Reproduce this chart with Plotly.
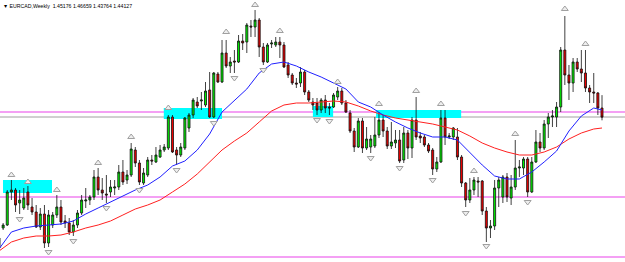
import plotly.graph_objects as go

# ---- weekly EURCAD candles ----
bar_index = list(range(147))
open_ = [
    1.2908, 1.3138, 1.31725, 1.3552, 1.3575, 1.34255, 1.3368, 1.3552, 1.33795, 1.3322,
    1.31495, 1.3299, 1.29655, 1.31725, 1.32875, 1.33795, 1.32185, 1.31955, 1.3092, 1.31725,
    1.33105, 1.34485, 1.346, 1.34945, 1.37245, 1.3575, 1.3529, 1.3552, 1.3598, 1.36095,
    1.3782, 1.369, 1.37475, 1.4035, 1.38855, 1.36555, 1.37475, 1.392, 1.3897, 1.39545,
    1.4035, 1.4058, 1.44145, 1.4035, 1.39775, 1.4058, 1.4288, 1.44375, 1.4587, 1.45985,
    1.45525, 1.4725, 1.44145, 1.4909, 1.4817, 1.51505, 1.5001, 1.50585, 1.5047, 1.52885,
    1.5277, 1.5461, 1.54495, 1.553, 1.52195, 1.5047, 1.5254, 1.52425, 1.5277, 1.52425,
    1.50125, 1.48975, 1.48055, 1.48055, 1.4932, 1.4702, 1.4587, 1.45755, 1.4495, 1.461,
    1.45295, 1.45295, 1.46445, 1.47135, 1.45755, 1.44605, 1.42535, 1.40695, 1.43685, 1.4058,
    1.40695, 1.4081, 1.42075, 1.438, 1.42535, 1.4081, 1.41155, 1.415, 1.392, 1.42305,
    1.4058, 1.438, 1.4196, 1.41845, 1.40925, 1.4035, 1.38165, 1.3897, 1.4403, 1.41845,
    1.41845, 1.41845, 1.39545, 1.36555, 1.346, 1.3575, 1.36785, 1.36785, 1.33335, 1.3138,
    1.3161, 1.3598, 1.34945, 1.37245, 1.3483, 1.36095, 1.3828, 1.3828, 1.39315, 1.3552,
    1.3897, 1.4127, 1.4058, 1.4334, 1.44145, 1.44145, 1.45295, 1.5185, 1.48975, 1.48055,
    1.5047, 1.49665, 1.49205, 1.4748, 1.4702, 1.46905, 1.45176]
high = [
    1.30805, 1.31955, 1.3575, 1.369, 1.3598, 1.3575, 1.3598, 1.3621, 1.3483, 1.34025,
    1.3368, 1.34025, 1.3345, 1.3322, 1.35175, 1.346, 1.32875, 1.3253, 1.323, 1.3345,
    1.35175, 1.3598, 1.35175, 1.3805, 1.3828, 1.3713, 1.37475, 1.369, 1.369, 1.38625,
    1.392, 1.3805, 1.41155, 1.40695, 1.392, 1.3828, 1.39545, 1.39775, 1.40695, 1.40925,
    1.4104, 1.44375, 1.44375, 1.40695, 1.41155, 1.44145, 1.44605, 1.4633, 1.46445, 1.4702,
    1.4817, 1.4932, 1.4932, 1.4932, 1.53, 1.53, 1.51045, 1.5185, 1.53575, 1.5369,
    1.54955, 1.553, 1.5645, 1.5553, 1.52655, 1.52655, 1.53, 1.53345, 1.53345, 1.5277,
    1.5047, 1.49205, 1.4863, 1.49895, 1.4955, 1.4725, 1.4633, 1.4633, 1.4633, 1.46675,
    1.45755, 1.46905, 1.47595, 1.4748, 1.461, 1.4495, 1.4288, 1.4403, 1.4403, 1.42995,
    1.42075, 1.44145, 1.4472, 1.44375, 1.42995, 1.4357, 1.4265, 1.4265, 1.42995, 1.4265,
    1.44145, 1.46445, 1.4242, 1.42075, 1.41155, 1.4058, 1.39545, 1.4495, 1.4495, 1.42305,
    1.42995, 1.4288, 1.39775, 1.3667, 1.3713, 1.37245, 1.37245, 1.369, 1.33795, 1.323,
    1.369, 1.37245, 1.37475, 1.37705, 1.37475, 1.415, 1.392, 1.39545, 1.39545, 1.39545,
    1.4265, 1.42305, 1.438, 1.44605, 1.4495, 1.4587, 1.52195, 1.5576, 1.50125, 1.5093,
    1.5093, 1.5185, 1.5185, 1.47825, 1.49205, 1.4702, 1.46659]
low = [
    1.28275, 1.3115, 1.3161, 1.346, 1.3322, 1.3299, 1.3345, 1.3345, 1.32875, 1.3138,
    1.3115, 1.2908, 1.29195, 1.3138, 1.3253, 1.31725, 1.3138, 1.30575, 1.3046, 1.3138,
    1.32875, 1.3368, 1.34025, 1.346, 1.35175, 1.346, 1.34255, 1.34945, 1.35175, 1.3575,
    1.36325, 1.3644, 1.37245, 1.38395, 1.36325, 1.36325, 1.37245, 1.38625, 1.38855, 1.3943,
    1.4012, 1.4035, 1.40005, 1.38625, 1.39545, 1.4035, 1.4242, 1.4403, 1.4518, 1.4495,
    1.45295, 1.4403, 1.4403, 1.48055, 1.48055, 1.4978, 1.49205, 1.49205, 1.50355, 1.5185,
    1.51505, 1.53345, 1.53345, 1.51045, 1.50125, 1.50355, 1.5208, 1.52195, 1.5093, 1.4978,
    1.4863, 1.47825, 1.4748, 1.47595, 1.46675, 1.4587, 1.4495, 1.44375, 1.44605, 1.44605,
    1.44375, 1.4518, 1.461, 1.45525, 1.44605, 1.42305, 1.4012, 1.4058, 1.40005, 1.4035,
    1.40005, 1.4058, 1.4173, 1.41845, 1.40465, 1.40465, 1.4058, 1.38855, 1.38855, 1.39315,
    1.3943, 1.415, 1.41155, 1.40695, 1.40005, 1.37475, 1.3782, 1.38855, 1.40925, 1.41615,
    1.415, 1.392, 1.36095, 1.33795, 1.34255, 1.35175, 1.34945, 1.32875, 1.2977, 1.3023,
    1.3115, 1.33795, 1.34255, 1.3437, 1.34025, 1.3575, 1.37245, 1.37475, 1.34945, 1.35405,
    1.38855, 1.4012, 1.4035, 1.4173, 1.42995, 1.42995, 1.4472, 1.47825, 1.461, 1.4702,
    1.4932, 1.4817, 1.4702, 1.45755, 1.45755, 1.44375, 1.43764]
close = [
    1.3023, 1.31725, 1.3552, 1.3575, 1.34025, 1.346, 1.3483, 1.34025, 1.3322, 1.31495,
    1.3299, 1.29655, 1.32875, 1.32875, 1.33795, 1.3207, 1.31955, 1.3092, 1.31725, 1.33105,
    1.346, 1.346, 1.34945, 1.37245, 1.3575, 1.35405, 1.35175, 1.36095, 1.36095, 1.3782,
    1.3667, 1.37475, 1.40465, 1.38855, 1.3667, 1.37705, 1.392, 1.39085, 1.39775, 1.4035,
    1.40695, 1.44145, 1.4012, 1.39775, 1.40695, 1.4403, 1.44375, 1.461, 1.4541, 1.461,
    1.47135, 1.44145, 1.49205, 1.4817, 1.51505, 1.5001, 1.5047, 1.5047, 1.52885, 1.52655,
    1.54725, 1.54495, 1.553, 1.52195, 1.5047, 1.52425, 1.52655, 1.5277, 1.52425, 1.49895,
    1.48975, 1.48055, 1.4794, 1.4932, 1.4702, 1.461, 1.45525, 1.4495, 1.461, 1.4518,
    1.4518, 1.46675, 1.47135, 1.45755, 1.4472, 1.42535, 1.40695, 1.43685, 1.4058, 1.41615,
    1.41615, 1.42075, 1.438, 1.42535, 1.4081, 1.4127, 1.415, 1.39085, 1.42305, 1.4058,
    1.438, 1.41845, 1.4173, 1.40925, 1.40235, 1.38165, 1.3897, 1.4403, 1.41845, 1.4196,
    1.4288, 1.39545, 1.36555, 1.346, 1.3575, 1.369, 1.3667, 1.33335, 1.3138, 1.3161,
    1.3598, 1.369, 1.37245, 1.34945, 1.36095, 1.3828, 1.38395, 1.39315, 1.3552, 1.3897,
    1.4127, 1.4058, 1.4334, 1.44145, 1.4426, 1.45295, 1.5185, 1.48975, 1.48055, 1.5047,
    1.49665, 1.49205, 1.4748, 1.4702, 1.46905, 1.4518, 1.44127]

# ---- moving averages (sampled every 3 bars) ----
ma_index = [0, 3, 6, 9, 12, 15, 18, 21, 24, 27, 30, 33, 36, 39, 42, 45, 48, 51, 54, 57,
            60, 63, 66, 69, 72, 75, 78, 81, 84, 87, 90, 93, 96, 99, 102, 105, 108, 111,
            114, 117, 120, 123, 126, 129, 132, 135, 138, 141, 144, 146]
ma_fast = [1.28965, 1.3092, 1.3138, 1.3161, 1.31725, 1.3184, 1.32185, 1.3299, 1.3368, 1.3437,
           1.3506, 1.3575, 1.36325, 1.37245, 1.3851, 1.39085, 1.4035, 1.4219, 1.4472, 1.45985,
           1.47365, 1.49205, 1.5024, 1.5047, 1.5001, 1.4932, 1.48745, 1.48055, 1.47365, 1.4587,
           1.45295, 1.44375, 1.4357, 1.4288, 1.42305, 1.41845, 1.41845, 1.415,
           1.40005, 1.38625, 1.3736, 1.37015, 1.37015, 1.3782, 1.3897, 1.40235, 1.42535, 1.4426, 1.4518, 1.4495]
ma_slow = [1.28735, 1.2977, 1.3023, 1.3046, 1.3046, 1.30575, 1.3092, 1.3138, 1.31725, 1.32185,
           1.32875, 1.33565, 1.34025, 1.346, 1.3552, 1.3644, 1.3759, 1.3897, 1.4035, 1.41385,
           1.42305, 1.4357, 1.44835, 1.45525, 1.45755, 1.45755, 1.4587, 1.45985, 1.4587, 1.4541,
           1.44835, 1.44375, 1.4403, 1.438, 1.4357, 1.4334, 1.42995, 1.4265,
           1.4196, 1.41155, 1.4058, 1.4012, 1.39775, 1.39775, 1.4012, 1.40695, 1.41615, 1.42305, 1.42765, 1.4288]

# ---- fractal arrows ----
fractal_up_index = [3, 7, 14, 24, 32, 41, 55, 62, 68, 82, 92, 101, 107, 115, 125, 137, 142]
fractal_up = [1.37475, 1.3667, 1.3575, 1.38855, 1.41845, 1.4518, 1.5392, 1.57025, 1.54035,
              1.4817, 1.4564, 1.47135, 1.4564, 1.37935, 1.4219, 1.56565, 1.5254]
fractal_down_index = [5, 12, 18, 26, 34, 43, 52, 57, 64, 77, 80, 90, 97, 105, 113, 118, 128]
fractal_down = [1.32415, 1.2862, 1.29885, 1.3368, 1.3575, 1.3805, 1.43455, 1.4863, 1.4955,
                1.438, 1.43685, 1.3943, 1.3828, 1.369, 1.33105, 1.2931, 1.3437]

# ---- supply / demand zones (aqua rectangles) ----
zone_start = [0.97, 39.9, 76.0, 91.3]
zone_end = [12.83, 54.0, 80.9, 111.9]
zone_top = [1.369, 1.4518, 1.4541, 1.4495]
zone_bottom = [1.35405, 1.43915, 1.44145, 1.4403]

# ---- horizontal levels ----
violet_levels = [1.4472, 1.34945, 1.28045]
grey_levels = [1.44145]

title_text = "\u25bc EURCAD,Weekly  1.45176 1.46659 1.43764 1.44127"

fig = go.Figure()

shapes = []
for x0, x1, y0, y1 in zip(zone_start, zone_end, zone_top, zone_bottom):
    shapes.append(dict(type="rect", xref="x", yref="y", x0=x0, x1=x1, y0=y0, y1=y1,
                       fillcolor="#00FFFF", line=dict(width=0), layer="below"))
for lv in grey_levels:
    shapes.append(dict(type="line", xref="paper", yref="y", x0=0, x1=1, y0=lv, y1=lv,
                       line=dict(color="#A0A0A0", width=1), layer="below"))
for lv in violet_levels:
    shapes.append(dict(type="line", xref="paper", yref="y", x0=0, x1=1, y0=lv, y1=lv,
                       line=dict(color="#F080F0", width=1.5), layer="below"))

fig.add_trace(go.Scatter(x=ma_index, y=ma_slow, mode="lines",
                         line=dict(color="#FF2020", width=1), hoverinfo="skip"))
fig.add_trace(go.Scatter(x=ma_index, y=ma_fast, mode="lines",
                         line=dict(color="#2020FF", width=1), hoverinfo="skip"))

fig.add_trace(go.Candlestick(
    x=bar_index, open=open_, high=high, low=low, close=close,
    increasing=dict(line=dict(color="#101010", width=0.8), fillcolor="#00F000"),
    decreasing=dict(line=dict(color="#101010", width=0.8), fillcolor="#F00000"),
    whiskerwidth=0, hoverinfo="skip"))

fig.add_trace(go.Scatter(x=fractal_up_index, y=fractal_up, mode="markers",
                         marker=dict(symbol="triangle-up", size=6, color="#EEEEEE",
                                     line=dict(color="#A0A0A0", width=1)), hoverinfo="skip"))
fig.add_trace(go.Scatter(x=fractal_down_index, y=fractal_down, mode="markers",
                         marker=dict(symbol="triangle-down", size=6, color="#EEEEEE",
                                     line=dict(color="#A0A0A0", width=1)), hoverinfo="skip"))

fig.update_layout(
    width=625, height=262,
    margin=dict(l=0, r=0, t=0, b=0),
    paper_bgcolor="white", plot_bgcolor="white",
    showlegend=False,
    shapes=shapes,
    xaxis=dict(visible=False, range=[0.24, 151.57], rangeslider=dict(visible=False), fixedrange=True),
    yaxis=dict(visible=False, range=[1.2747, 1.576], fixedrange=True),
    annotations=[dict(text=title_text, xref="paper", yref="paper", x=0.002, y=0.995,
                      xanchor="left", yanchor="top", showarrow=False,
                      font=dict(family="Liberation Sans", size=5.2, color="black"))],
)

fig.write_html("out.html", config={"displayModeBar": False})
